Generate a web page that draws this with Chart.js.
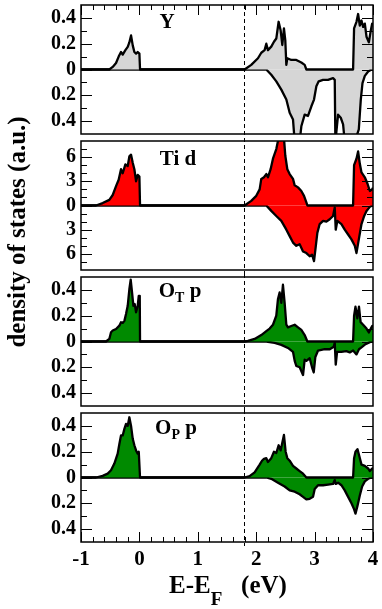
<!DOCTYPE html>
<html>
<head>
<meta charset="utf-8">
<script src="https://cdn.jsdelivr.net/npm/chart.js@4/dist/chart.umd.min.js"></script>
<style>
  body { margin: 0; background: #fff; width: 382px; height: 609px; position: relative; overflow: hidden; }
  canvas { position: absolute; left: 0; }
  .lbl { position: absolute; font-family: "Liberation Serif", "Times New Roman", serif; font-weight: bold; color: #000; white-space: nowrap; line-height: 1; }
</style>
</head>
<body>
<canvas id="c1" width="382" height="138" style="top:0px"></canvas>
<canvas id="c2" width="382" height="136" style="top:138px"></canvas>
<canvas id="c3" width="382" height="136" style="top:274px"></canvas>
<canvas id="c4" width="382" height="199" style="top:410px"></canvas>

<div class="lbl" style="left:117px; top:11px; width:100px; text-align:center; font-size:21px;">Y</div>
<div class="lbl" style="left:128px; top:148px; width:100px; text-align:center; font-size:21px;">Ti d</div>
<div class="lbl" style="left:130px; top:280px; width:100px; text-align:center; font-size:21px;">O<span style="font-size:14px; position:relative; top:5px;">T</span> p</div>
<div class="lbl" style="left:126px; top:417px; width:100px; text-align:center; font-size:21px;">O<span style="font-size:14px; position:relative; top:5px;">P</span> p</div>

<div class="lbl" style="left:78px; top:572px; width:300px; text-align:center; font-size:25px;">E-E<span style="font-size:19px; position:relative; top:12px;">F</span>&nbsp;&nbsp;&nbsp;(eV)</div>
<div class="lbl" style="left:-133px; top:217px; width:300px; height:30px; line-height:30px; text-align:center; font-size:25px; transform:rotate(-90deg);">density of states (a.u.)</div>

<script>
// Energy axis (eV): labelled ticks, small ticks and the gap marker.
const xMajor = [-1, 0, 1, 2, 3, 4];
const xMinor = [-0.8, -0.6, -0.4, -0.2, 0.2, 0.4, 0.6, 0.8, 1.2, 1.4, 1.6, 1.8,
                2.2, 2.4, 2.6, 2.8, 3.2, 3.4, 3.6, 3.8];
const gapEnergy = 1.79;

// DOS axis ticks (lower half is spin down, shown as absolute values).
const smallMajor = [-0.4, -0.2, 0, 0.2, 0.4];
const smallMinor = [-0.3, -0.1, 0.1, 0.3];
const tiMajor = [-6, -3, 0, 3, 6];
const tiMinor = [-7, -5, -4, -2, -1, 1, 2, 4, 5, 7];

// Y projected DOS, [energy, dos]
const yUp = [[-1,0],[-0.515,0],[-0.457,0.02],[-0.40,0.05],[-0.355,0.10],[-0.315,0.136],[-0.286,0.115],
  [-0.24,0.15],[-0.2,0.175],[-0.172,0.21],[-0.143,0.264],[-0.114,0.187],[-0.086,0.136],[-0.057,0.123],
  [-0.029,0.136],[0,0.123],[0.011,0],[1.801,0],[1.915,0.036],[2.030,0.087],[2.087,0.13],[2.144,0.15],
  [2.173,0.20],[2.201,0.15],[2.258,0.177],[2.304,0.215],[2.344,0.24],[2.384,0.37],[2.418,0.305],
  [2.447,0.19],[2.475,0.318],[2.498,0.228],[2.516,0.036],[2.533,0.087],[2.601,0.074],[2.687,0.074],
  [2.773,0.054],[2.830,0.036],[2.859,0],[3.659,0],[3.676,0.318],[3.717,0.37],[3.745,0.43],[3.774,0.34],
  [3.803,0.38],[3.831,0.33],[3.860,0.356],[3.889,0.254],[3.929,0.21],[3.963,0.305],[3.986,0.356],[4,0.34]];
const yDown = [[-1,0],[2.173,0],[2.258,-0.041],[2.344,-0.092],[2.430,-0.156],[2.516,-0.233],[2.573,-0.336],
  [2.630,-0.387],[2.659,-0.56],[2.744,-0.56],[2.773,-0.44],[2.830,-0.35],[2.887,-0.36],[2.945,-0.285],
  [2.990,-0.233],[3.030,-0.13],[3.070,-0.092],[3.145,-0.08],[3.230,-0.08],[3.316,-0.067],[3.345,-0.08],
  [3.356,-0.56],[3.402,-0.35],[3.448,-0.374],[3.488,-0.425],[3.516,-0.56],[3.688,-0.56],[3.757,-0.464],
  [3.791,-0.233],[3.820,-0.105],[3.860,-0.049],[3.917,-0.015],[3.974,0],[4,0]];

// Ti d
const tiUp = [[-1,0],[-0.743,0],[-0.629,0.3],[-0.515,0.7],[-0.457,1.3],[-0.40,2.4],[-0.355,3.2],[-0.315,4.5],
  [-0.286,4.0],[-0.24,5.1],[-0.2,4.9],[-0.172,6.1],[-0.143,6.3],[-0.114,5.3],[-0.086,4.5],[-0.057,3.0],
  [-0.029,3.8],[0,3.6],[0.011,0],[1.801,0],[1.915,0.58],[2.001,1.2],[2.059,2.0],[2.087,3.3],[2.133,3.5],
  [2.173,3.9],[2.201,3.5],[2.247,4.5],[2.287,5.8],[2.344,7.0],[2.384,8.4],[2.430,8.6],[2.475,8.4],
  [2.498,6.2],[2.533,4.5],[2.573,3.9],[2.630,3.3],[2.659,2.5],[2.716,2.25],[2.773,1.8],[2.819,1.2],
  [2.859,0.4],[2.876,0],[3.659,0],[3.676,5.0],[3.717,5.8],[3.745,6.7],[3.774,5.2],[3.803,4.1],[3.860,3.5],
  [3.906,2.7],[3.946,1.8],[3.986,2.0],[4,2.2]];
const tiDown = [[-1,0],[2.173,0],[2.258,-0.67],[2.344,-1.3],[2.430,-1.9],[2.516,-3.0],[2.573,-3.8],[2.630,-4.6],
  [2.687,-5.0],[2.744,-4.8],[2.802,-5.7],[2.859,-5.9],[2.916,-6.3],[2.956,-6.1],[2.990,-6.9],[3.013,-5.5],
  [3.047,-3.4],[3.087,-2.3],[3.145,-1.9],[3.202,-2.0],[3.259,-1.7],[3.316,-1.3],[3.345,-0.25],[3.362,-3.0],
  [3.390,-1.9],[3.459,-2.3],[3.516,-3.0],[3.574,-3.6],[3.631,-4.2],[3.688,-5.0],[3.717,-5.9],[3.757,-4.2],
  [3.803,-2.3],[3.849,-1.3],[3.889,-0.67],[3.946,-0.17],[3.986,0],[4,0]];

// O_T p
const otUp = [[-1,0],[-0.572,0],[-0.515,0.02],[-0.486,0.072],[-0.457,0.085],[-0.40,0.097],[-0.343,0.123],
  [-0.315,0.149],[-0.286,0.144],[-0.257,0.16],[-0.229,0.213],[-0.2,0.277],[-0.172,0.405],[-0.149,0.48],
  [-0.126,0.38],[-0.103,0.277],[-0.08,0.29],[-0.057,0.226],[-0.029,0.277],[-0.011,0.354],[0.006,0.354],
  [0.011,0],[1.801,0],[1.858,0.005],[1.973,0.02],[2.087,0.05],[2.173,0.08],[2.230,0.1],[2.287,0.13],
  [2.344,0.2],[2.373,0.33],[2.401,0.38],[2.430,0.3],[2.458,0.44],[2.487,0.3],[2.516,0.13],[2.544,0.11],
  [2.601,0.12],[2.659,0.13],[2.716,0.11],[2.773,0.09],[2.830,0.05],[2.876,0],[3.659,0],[3.676,0.2],
  [3.700,0.27],[3.731,0.18],[3.760,0.27],[3.788,0.15],[3.831,0.13],[3.889,0.1],[3.929,0.07],[3.963,0.1],
  [3.986,0.12],[4,0.12]];
const otDown = [[-1,0],[2.173,0],[2.316,-0.01],[2.430,-0.026],[2.544,-0.05],[2.630,-0.08],[2.659,-0.15],
  [2.687,-0.19],[2.744,-0.2],[2.802,-0.26],[2.830,-0.14],[2.859,-0.15],[2.916,-0.13],[2.956,-0.2],
  [2.985,-0.24],[3.013,-0.12],[3.059,-0.07],[3.116,-0.065],[3.173,-0.06],[3.259,-0.06],[3.328,-0.04],
  [3.345,-0.01],[3.362,-0.18],[3.385,-0.08],[3.459,-0.08],[3.545,-0.075],[3.602,-0.085],[3.659,-0.07],
  [3.717,-0.1],[3.760,-0.06],[3.803,-0.045],[3.872,-0.02],[3.946,-0.005],[3.986,0],[4,0]];

// O_P p
const opUp = [[-1,0],[-0.743,0],[-0.629,0.013],[-0.543,0.03],[-0.486,0.056],[-0.429,0.108],[-0.372,0.185],
  [-0.343,0.26],[-0.315,0.326],[-0.286,0.326],[-0.257,0.377],[-0.229,0.415],[-0.2,0.40],[-0.172,0.467],
  [-0.143,0.40],[-0.114,0.30],[-0.086,0.25],[-0.057,0.21],[-0.029,0.185],[-0.011,0.2],[0.011,0],
  [1.801,0],[1.887,0.01],[1.973,0.04],[2.059,0.1],[2.099,0.13],[2.133,0.145],[2.173,0.15],[2.201,0.12],
  [2.258,0.15],[2.304,0.2],[2.344,0.19],[2.384,0.25],[2.418,0.21],[2.447,0.27],[2.475,0.33],[2.504,0.2],
  [2.533,0.15],[2.573,0.13],[2.630,0.09],[2.687,0.07],[2.744,0.05],[2.802,0.03],[2.859,0],[3.659,0],
  [3.676,0.15],[3.700,0.2],[3.734,0.22],[3.763,0.17],[3.803,0.1],[3.860,0.09],[3.917,0.07],[3.946,0.05],
  [3.986,0.07],[4,0.07]];
const opDown = [[-1,0],[2.173,0],[2.258,-0.01],[2.373,-0.04],[2.487,-0.07],[2.573,-0.1],[2.659,-0.11],
  [2.744,-0.13],[2.802,-0.15],[2.830,-0.16],[2.859,-0.17],[2.916,-0.165],[2.973,-0.15],[3.002,-0.09],
  [3.059,-0.06],[3.145,-0.06],[3.230,-0.055],[3.316,-0.05],[3.345,-0.02],[3.362,-0.05],[3.402,-0.04],
  [3.459,-0.06],[3.516,-0.1],[3.574,-0.15],[3.631,-0.2],[3.671,-0.24],[3.700,-0.28],[3.734,-0.22],
  [3.774,-0.14],[3.814,-0.07],[3.860,-0.03],[3.917,-0.01],[3.974,0],[4,0]];

const serif = "'Liberation Serif', 'Times New Roman', serif";

// Draws the box, inward ticks and the dashed gap line (grace style).
const framePlugin = {
  id: 'frame',
  afterDatasetsDraw(chart, args, opts) {
    const { ctx, chartArea: a, scales: { x, y } } = chart;
    ctx.save();
    ctx.strokeStyle = '#000';

    // dashed line at the band gap
    ctx.lineWidth = 1;
    ctx.setLineDash([4, 3]);
    const gx = Math.round(x.getPixelForValue(gapEnergy)) + 0.5;
    ctx.beginPath();
    ctx.moveTo(gx, opts.lineTop === 'area' ? a.top : 0);
    ctx.lineTo(gx, opts.lineBottom === 'area' ? a.bottom + 4 : chart.height);
    ctx.stroke();
    ctx.setLineDash([]);

    // y ticks, both sides
    ctx.lineWidth = 1;
    ctx.beginPath();
    opts.yMajor.concat(opts.yMinor).forEach(v => {
      const len = opts.yMajor.includes(v) ? 11 : 6;
      const py = Math.round(y.getPixelForValue(v)) + 0.5;
      ctx.moveTo(a.left, py); ctx.lineTo(a.left + len, py);
      ctx.moveTo(a.right, py); ctx.lineTo(a.right - len, py);
    });
    // x ticks on the outer edges only
    xMajor.concat(xMinor).forEach(v => {
      const len = xMajor.includes(v) ? 10 : 5;
      const px = Math.round(x.getPixelForValue(v)) + 0.5;
      if (opts.topTicks) { ctx.moveTo(px, a.top); ctx.lineTo(px, a.top + len); }
      if (opts.bottomTicks) { ctx.moveTo(px, a.bottom); ctx.lineTo(px, a.bottom - len); }
    });
    ctx.stroke();

    // frame
    ctx.lineWidth = 1.5;
    ctx.strokeRect(a.left, a.top, a.width, a.height);
    ctx.restore();
  }
};

function toPoints(pairs) {
  return pairs.map(p => ({ x: p[0], y: p[1] }));
}

function makePanel(id, up, down, fill, yMax, yMajor, yMinor, pad, bottom, frameOpts) {
  new Chart(document.getElementById(id), {
    type: 'line',
    data: {
      datasets: [
        { data: toPoints(up), fill: 'origin', backgroundColor: fill },
        { data: toPoints(down), fill: 'origin', backgroundColor: fill }
      ]
    },
    options: {
      responsive: false,
      animation: false,
      layout: { padding: pad },
      elements: {
        point: { radius: 0 },
        line: { tension: 0, borderWidth: 2.3, borderColor: '#000', borderJoinStyle: 'round' }
      },
      plugins: {
        legend: { display: false },
        tooltip: { enabled: false },
        frame: Object.assign({ yMajor: yMajor, yMinor: yMinor }, frameOpts)
      },
      scales: {
        x: {
          type: 'linear',
          min: -1,
          max: 4,
          display: bottom,
          grid: { display: false, drawTicks: false },
          border: { display: false },
          afterBuildTicks: s => { s.ticks = xMajor.map(v => ({ value: v })); },
          // only the bottom panel keeps room for the energy labels
          afterFit: s => { s.height = bottom ? 67 : 0; s.paddingLeft = 0; s.paddingRight = 0; },
          ticks: {
            color: '#000',
            padding: 5,
            maxRotation: 0,
            autoSkip: false,
            font: { family: serif, weight: 'bold', size: 21 }
          }
        },
        y: {
          type: 'linear',
          min: -yMax,
          max: yMax,
          grid: { display: false, drawTicks: false },
          border: { display: false },
          afterBuildTicks: s => { s.ticks = yMajor.map(v => ({ value: v })); },
          // fixed width, and no extra room above/below for the end labels
          afterFit: s => { s.width = 81; s.paddingTop = 0; s.paddingBottom = 0; },
          ticks: {
            color: '#000',
            padding: 5,
            autoSkip: false,
            font: { family: serif, weight: 'bold', size: 20 },
            callback: v => String(Math.abs(v))
          }
        }
      }
    },
    plugins: [framePlugin]
  });
}

makePanel('c1', yUp, yDown, '#d6d6d6', 0.5, smallMajor, smallMinor,
  { left: 0, right: 9, top: 5, bottom: 4 }, false, { topTicks: true, lineTop: 'area' });
makePanel('c2', tiUp, tiDown, '#ff0000', 8, tiMajor, tiMinor,
  { left: 0, right: 9, top: 3, bottom: 4 }, false, {});
makePanel('c3', otUp, otDown, '#008a00', 0.5, smallMajor, smallMinor,
  { left: 0, right: 9, top: 3, bottom: 4 }, false, {});
makePanel('c4', opUp, opDown, '#008a00', 0.5, smallMajor, smallMinor,
  { left: 0, right: 9, top: 3, bottom: 0 }, true, { bottomTicks: true, lineBottom: 'area' });
</script>
</body>
</html>
